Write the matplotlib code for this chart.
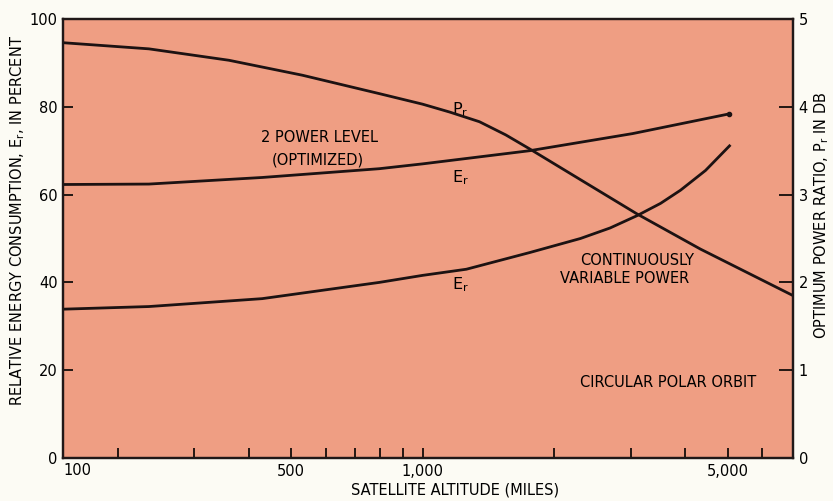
import matplotlib
matplotlib.use("Agg")
import matplotlib.pyplot as plt

# altitude (miles) and values
alt_pr = [150, 236, 360, 530, 796, 1000, 1154, 1350, 1551, 1760, 2300, 3100, 4330, 7060]
pr_db = [4.73, 4.66, 4.53, 4.36, 4.15, 4.03, 3.94, 3.83, 3.68, 3.52, 3.17, 2.78, 2.38, 1.85]

alt_er2 = [150, 236, 429, 796, 1000, 1760, 3030, 5050]
er_2level = [62.3, 62.4, 63.9, 65.9, 67.0, 70.0, 73.9, 78.4]

alt_erc = [150, 236, 429, 796, 1000, 1260, 1760, 2300, 2690, 3100, 3510, 3900, 4450, 5050]
er_cont = [33.9, 34.5, 36.3, 40.0, 41.6, 43.0, 46.8, 50.0, 52.4, 55.2, 58.0, 61.0, 65.5, 71.1]

x_major = [500, 1000, 5000]
x_major_lbl = ["500", "1,000", "5,000"]
x_minor = [200, 300, 400, 600, 700, 800, 900, 2000, 3000, 4000, 6000]
left_ticks = [0, 20, 40, 60, 80, 100]
right_ticks = [0, 1, 2, 3, 4, 5]

bg = "#EF9E83"
ink = "#1c1212"
fs = 10.5

fig = plt.figure(figsize=(8.33, 5.01), dpi=100, facecolor="#FCFBF4")
ax = fig.add_axes([63/833, 1-458/501, 730/833, 439/501])
ax.set_facecolor(bg)
ax.set_xscale("log")
ax.set_xlim(150, 7060)
ax.set_ylim(0, 100)

ax.plot(alt_er2, er_2level, color=ink, lw=2, solid_joinstyle="round")
ax.plot(alt_erc, er_cont, color=ink, lw=2, solid_joinstyle="round")
ax.plot(alt_er2[-1], er_2level[-1], "o", color=ink, ms=3)

ax.set_xticks(x_major)
ax.set_xticklabels(x_major_lbl)
ax.set_xticks(x_minor, minor=True)
ax.xaxis.set_minor_formatter(matplotlib.ticker.NullFormatter())
ax.set_yticks(left_ticks)
ax.tick_params(which="both", direction="in", length=7, width=1.2, labelsize=fs, pad=4)
ax.text(0.0, -0.012, "100", transform=ax.transAxes, ha="left", va="top", fontsize=fs)

ax2 = ax.twinx()
ax2.set_ylim(0, 5)
ax2.plot(alt_pr, pr_db, color=ink, lw=2, solid_joinstyle="round")
ax2.set_yticks(right_ticks)
ax2.tick_params(direction="in", length=10, width=1.2, labelsize=fs, pad=4)

for a in (ax, ax2):
    for s in a.spines.values():
        s.set_linewidth(1.6)
        s.set_color("#201818")

# labels on the curves
ax.text(0.544, 0.793, "P$_\\mathregular{r}$", transform=ax.transAxes, ha="center", va="center", fontsize=fs+1)
ax.text(0.352, 0.731, "2 POWER LEVEL", transform=ax.transAxes, ha="center", va="center", fontsize=fs)
ax.text(0.349, 0.679, "(OPTIMIZED)", transform=ax.transAxes, ha="center", va="center", fontsize=fs)
ax.text(0.544, 0.638, "E$_\\mathregular{r}$", transform=ax.transAxes, ha="center", va="center", fontsize=fs+1)
ax.text(0.544, 0.394, "E$_\\mathregular{r}$", transform=ax.transAxes, ha="center", va="center", fontsize=fs+1)
ax.text(0.786, 0.451, "CONTINUOUSLY", transform=ax.transAxes, ha="center", va="center", fontsize=fs)
ax.text(0.770, 0.408, "VARIABLE POWER", transform=ax.transAxes, ha="center", va="center", fontsize=fs)
ax.text(0.829, 0.171, "CIRCULAR POLAR ORBIT", transform=ax.transAxes, ha="center", va="center", fontsize=fs)

fig.text(455/833, 1-490/501, "SATELLITE ALTITUDE (MILES)", ha="center", va="center", fontsize=fs)
fig.text(18/833, 1-220/501, "RELATIVE ENERGY CONSUMPTION, E$_\\mathregular{r}$, IN PERCENT",
         rotation=90, ha="center", va="center", fontsize=fs)
fig.text(822/833, 1-215/501, "OPTIMUM POWER RATIO, P$_\\mathregular{r}$ IN DB",
         rotation=90, ha="center", va="center", fontsize=fs)

fig.savefig("out.png", dpi=100, facecolor=fig.get_facecolor())
